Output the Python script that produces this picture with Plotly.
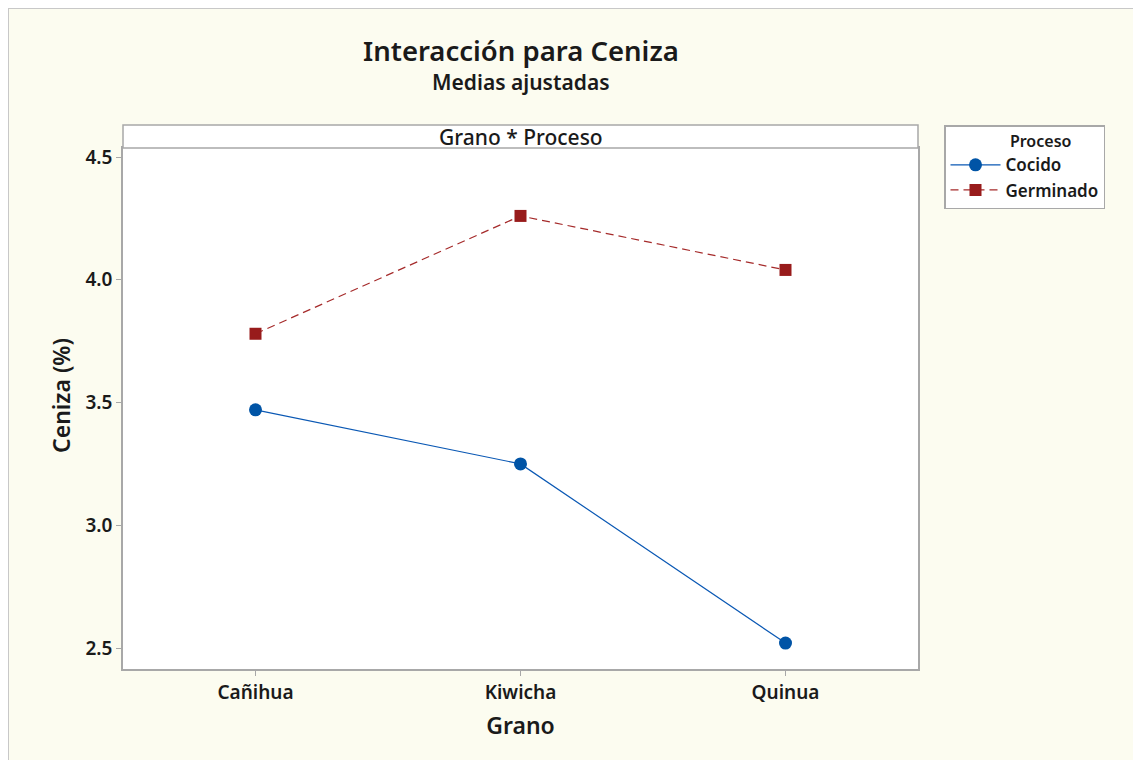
import plotly.graph_objects as go

granos = ["Cañihua", "Kiwicha", "Quinua"]
cocido = [3.47, 3.25, 2.52]
germinado = [3.78, 4.26, 4.04]
y_ticks = [2.5, 3.0, 3.5, 4.0, 4.5]

# the page puts the figure 8px in from the top-left corner
OFF = 8
W, H = 1141 - OFF, 760 - OFF
L, R, T, B = 123 - OFF, 918 - OFF, 148 - OFF, 669 - OFF   # plot area in figure pixels
FONT = "Noto Sans"
INK = "#1a1a1a"


def px_x(p):
    # reference pixel -> paper x
    return (p - OFF - L) / (R - L)


def px_y(p):
    # reference pixel -> paper y
    return (B - (p - OFF)) / (B - T)


fig = go.Figure()
fig.add_trace(go.Scatter(
    x=[0, 1, 2], y=cocido, name="Cocido", mode="lines+markers",
    line=dict(color="#0A58B4", width=1.2),
    marker=dict(symbol="circle", size=13, color="#0054A6")))
fig.add_trace(go.Scatter(
    x=[0, 1, 2], y=germinado, name="Germinado", mode="lines+markers",
    line=dict(color="#A52A2A", width=1.2, dash="8px,5px"),
    marker=dict(symbol="square", size=12, color="#981B1B")))

axis_common = dict(showline=True, linecolor="#A8A8A8", linewidth=1.5, mirror=True,
                   ticks="outside", ticklen=5, tickcolor="#A8A8A8",
                   showgrid=False, zeroline=False,
                   tickfont=dict(family=FONT, size=19, color=INK, weight=600))

fig.update_xaxes(range=[-0.5, 2.5], tickvals=[0, 1, 2], ticktext=granos,
                 title=dict(text="Grano", font=dict(family=FONT, size=23, color=INK, weight=600),
                            standoff=14),
                 **axis_common)
fig.update_yaxes(range=[2.5 - 21 / 245.5, 4.5 + 9 / 245.5], tickvals=y_ticks,
                 ticktext=[f"{v:.1f}" for v in y_ticks],
                 **axis_common)

shapes = [
    # outer frame (left and top edges)
    dict(type="line", xref="paper", yref="paper", x0=px_x(8), x1=px_x(8), y0=px_y(8), y1=px_y(800),
         line=dict(color="#C8C8C8", width=2)),
    dict(type="line", xref="paper", yref="paper", x0=px_x(8), x1=px_x(1200), y0=px_y(8), y1=px_y(8),
         line=dict(color="#C8C8C8", width=2)),
    # facet strip
    dict(type="rect", xref="paper", yref="paper", x0=0, x1=1, y0=1, y1=px_y(125),
         fillcolor="white", line=dict(color="#A8A8A8", width=1.5)),
]

annotations = [
    dict(text="Grano * Proceso", xref="paper", yref="paper", x=0.5, y=px_y(137),
         showarrow=False, xanchor="center", yanchor="middle",
         font=dict(family=FONT, size=21, color=INK, weight=500)),
    dict(text="Interacción para Ceniza", xref="paper", yref="paper", x=px_x(521), y=px_y(50),
         showarrow=False, xanchor="center", yanchor="middle",
         font=dict(family=FONT, size=27.5, color=INK, weight=600)),
    dict(text="Medias ajustadas", xref="paper", yref="paper", x=px_x(521), y=px_y(82),
         showarrow=False, xanchor="center", yanchor="middle",
         font=dict(family=FONT, size=21, color=INK, weight=600)),
    dict(text="Ceniza (%)", xref="paper", yref="paper", x=px_x(61), y=px_y(396),
         showarrow=False, xanchor="center", yanchor="middle", textangle=-90,
         font=dict(family=FONT, size=23, color=INK, weight=600)),
]

fig.update_layout(
    width=W, height=H,
    margin=dict(l=L, r=W - R, t=T, b=H - B, pad=0, autoexpand=False),
    paper_bgcolor="#FCFCF0", plot_bgcolor="white",
    shapes=shapes, annotations=annotations,
    legend=dict(x=px_x(944), y=px_y(125), xanchor="left", yanchor="top",
                bgcolor="white", bordercolor="#A8A8A8", borderwidth=1.5,
                title=dict(text="\u00a0" * 15 + "Proceso", side="top",
                           font=dict(family=FONT, size=16, color=INK, weight=600)),
                font=dict(family=FONT, size=17, color=INK, weight=600),
                tracegroupgap=0, itemwidth=50),
)

fig.write_html("out.html")
